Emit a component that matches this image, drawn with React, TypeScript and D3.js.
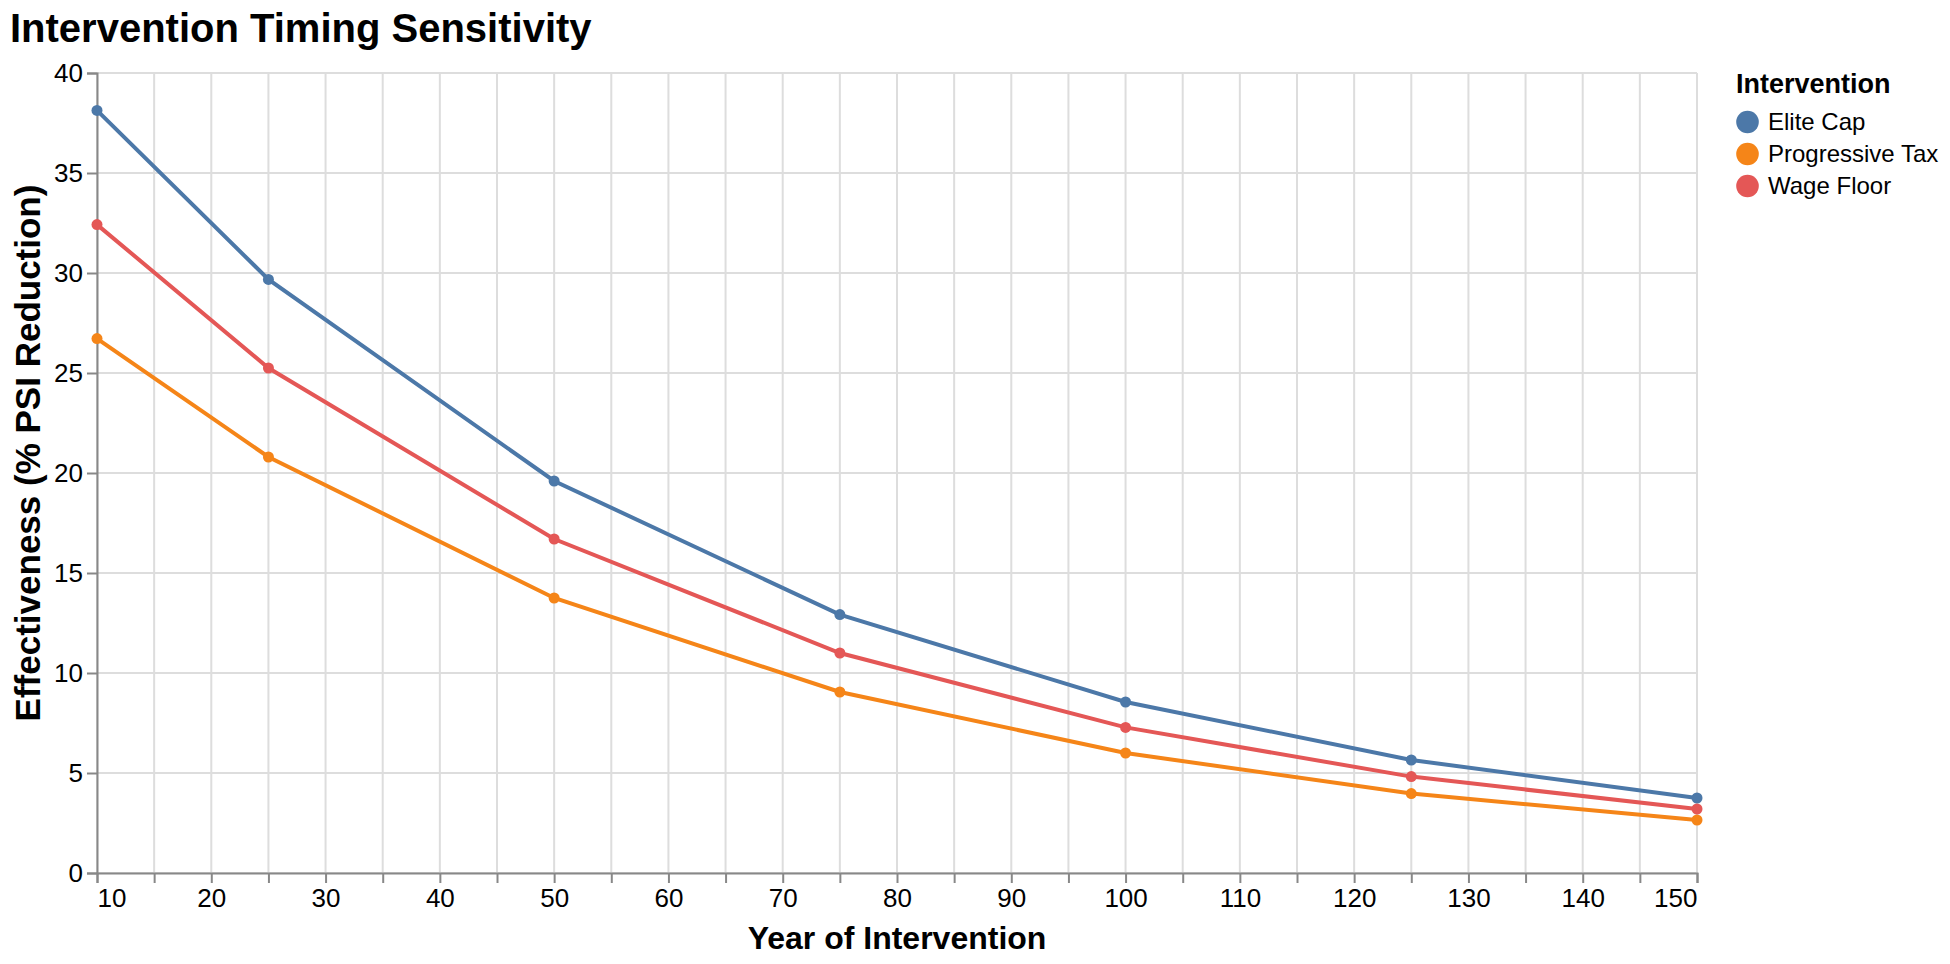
import { useEffect, useRef } from 'react';
import * as d3 from 'd3';

const years = [10, 25, 50, 75, 100, 125, 150];
const seriesNames = ["Elite Cap", "Progressive Tax", "Wage Floor"];
const seriesColors = ["#4c78a8", "#f58518", "#e45756"];
const eliteCap = [38.13, 29.68, 19.6, 12.92, 8.55, 5.65, 3.75];
const progressiveTax = [26.72, 20.8, 13.75, 9.05, 6.0, 3.97, 2.65];
const wageFloor = [32.42, 25.25, 16.7, 11.0, 7.28, 4.82, 3.2];
const xTicks = d3.range(10, 151, 5);
const yTicks = d3.range(0, 41, 5);

interface DataPoint {
  x: number;
  y: number;
}

export default function App() {
  const ref = useRef<SVGSVGElement | null>(null);
  const width = 1950;
  const height = 964;

  useEffect(() => {
    if (!ref.current) return;
    const svg = d3.select(ref.current);
    svg.selectAll("*").remove();

    const margin = { top: 73, right: 253, bottom: 91, left: 97 };
    const font = "Liberation Sans, Arial, Helvetica, sans-serif";

    const x = d3.scaleLinear()
      .domain([10, 150])
      .range([margin.left, width - margin.right]);

    const y = d3.scaleLinear()
      .domain([0, 40])
      .range([height - margin.bottom, margin.top]);

    const series = [eliteCap, progressiveTax, wageFloor].map((vals, i) => ({
      name: seriesNames[i],
      color: seriesColors[i],
      points: vals.map((v, j) => ({ x: years[j], y: v })),
    }));

    // grid
    svg.append("g")
      .selectAll("line")
      .data(xTicks)
      .enter()
      .append("line")
      .attr("x1", d => x(d))
      .attr("x2", d => x(d))
      .attr("y1", y(0))
      .attr("y2", y(40))
      .attr("stroke", "#ddd")
      .attr("stroke-width", 2);

    svg.append("g")
      .selectAll("line")
      .data(yTicks)
      .enter()
      .append("line")
      .attr("x1", x(10))
      .attr("x2", x(150))
      .attr("y1", d => y(d))
      .attr("y2", d => y(d))
      .attr("stroke", "#ddd")
      .attr("stroke-width", 2);

    // x axis
    const xAxis = svg.append("g")
      .attr("transform", `translate(0,${y(0)})`)
      .call(d3.axisBottom(x).tickValues(xTicks).tickSize(10).tickPadding(6)
        .tickFormat(d => (+d % 10 === 0 ? String(d) : "")));
    xAxis.select(".domain").attr("stroke", "#888").attr("stroke-width", 2);
    xAxis.selectAll(".tick line").attr("stroke", "#888").attr("stroke-width", 2);
    xAxis.selectAll(".tick text")
      .attr("font-family", font)
      .attr("font-size", 26)
      .attr("fill", "#000")
      .attr("text-anchor", (d: any) => (d === 10 ? "start" : d === 150 ? "end" : "middle"));

    // y axis
    const yAxis = svg.append("g")
      .attr("transform", `translate(${x(10)},0)`)
      .call(d3.axisLeft(y).tickValues(yTicks).tickSize(10).tickPadding(4));
    yAxis.select(".domain").attr("stroke", "#888").attr("stroke-width", 2);
    yAxis.selectAll(".tick line").attr("stroke", "#888").attr("stroke-width", 2);
    yAxis.selectAll(".tick text")
      .attr("font-family", font)
      .attr("font-size", 26)
      .attr("fill", "#000");

    const line = d3.line<DataPoint>()
      .x(d => x(d.x))
      .y(d => y(d.y));

    series.forEach(s => {
      svg.append("path")
        .datum(s.points)
        .attr("fill", "none")
        .attr("stroke", s.color)
        .attr("stroke-width", 4)
        .attr("d", line);

      svg.append("g")
        .selectAll("circle")
        .data(s.points)
        .enter()
        .append("circle")
        .attr("cx", d => x(d.x))
        .attr("cy", d => y(d.y))
        .attr("r", 5.5)
        .attr("fill", s.color);
    });

    // titles
    svg.append("text")
      .attr("x", 10)
      .attr("y", 42)
      .attr("font-family", font)
      .attr("font-size", 40)
      .attr("font-weight", "bold")
      .text("Intervention Timing Sensitivity");

    svg.append("text")
      .attr("x", (x(10) + x(150)) / 2)
      .attr("y", 949)
      .attr("text-anchor", "middle")
      .attr("font-family", font)
      .attr("font-size", 32)
      .attr("font-weight", "bold")
      .text("Year of Intervention");

    svg.append("text")
      .attr("transform", `translate(40,453) rotate(-90)`)
      .attr("text-anchor", "middle")
      .attr("font-family", font)
      .attr("font-size", 35)
      .attr("font-weight", "bold")
      .text("Effectiveness (% PSI Reduction)");

    // legend
    const legend = svg.append("g").attr("transform", "translate(1736,0)");
    legend.append("text")
      .attr("x", 0)
      .attr("y", 93)
      .attr("font-family", font)
      .attr("font-size", 27)
      .attr("font-weight", "bold")
      .text("Intervention");

    series.forEach((s, i) => {
      const cy = 122 + i * 32;
      legend.append("circle")
        .attr("cx", 11.5)
        .attr("cy", cy)
        .attr("r", 11.3)
        .attr("fill", s.color);
      legend.append("text")
        .attr("x", 32)
        .attr("y", cy)
        .attr("dy", "0.35em")
        .attr("font-family", font)
        .attr("font-size", 24)
        .text(s.name);
    });
  }, []);

  return (
    <svg
      ref={ref}
      width={width}
      height={height}
      style={{ position: "absolute", left: 0, top: 0, background: "#fff" }}
    />
  );
}
